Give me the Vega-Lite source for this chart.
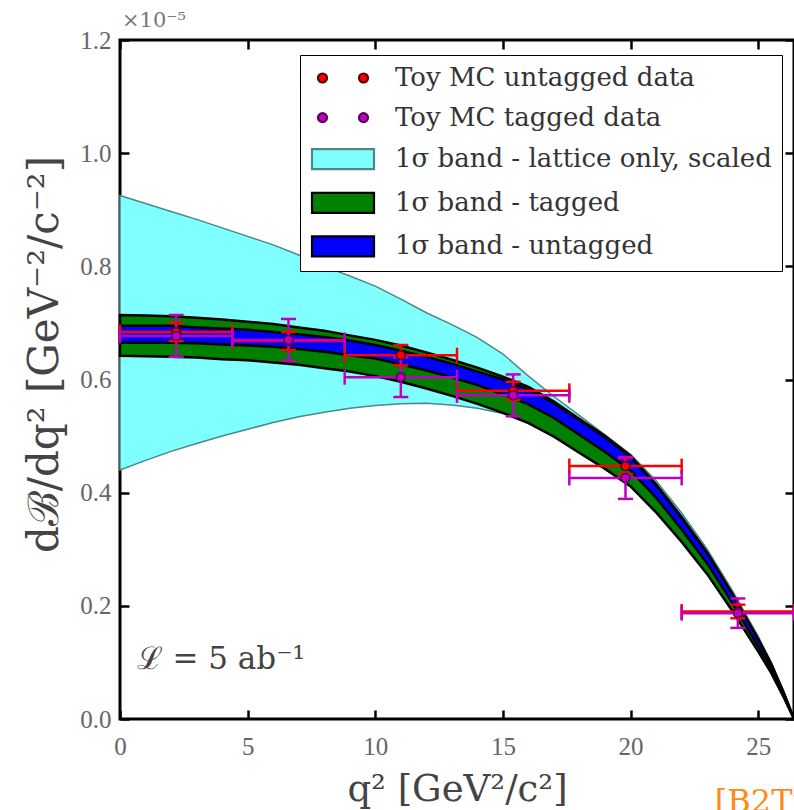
{
  "$schema": "https://vega.github.io/schema/vega-lite/v6.json",
  "width": 674,
  "height": 679,
  "autosize": {"type": "none"},
  "padding": {"left": 120, "top": 40, "right": 0, "bottom": 91},
  "background": "white",
  "config": {
    "view": {"stroke": "black", "strokeWidth": 3},
    "axis": {"grid": false}
  },
  "datasets": {
    "bands": [
      {"q2": 0, "c_lo": 0.440, "c_hi": 0.925, "g_lo": 0.642, "g_hi": 0.714, "b_lo": 0.665, "b_hi": 0.695},
      {"q2": 1, "c_lo": 0.457, "c_hi": 0.911, "g_lo": 0.641, "g_hi": 0.713, "b_lo": 0.665, "b_hi": 0.695},
      {"q2": 2, "c_lo": 0.473, "c_hi": 0.897, "g_lo": 0.640, "g_hi": 0.712, "b_lo": 0.665, "b_hi": 0.695},
      {"q2": 3, "c_lo": 0.487, "c_hi": 0.883, "g_lo": 0.639, "g_hi": 0.709, "b_lo": 0.664, "b_hi": 0.692},
      {"q2": 4, "c_lo": 0.500, "c_hi": 0.868, "g_lo": 0.636, "g_hi": 0.706, "b_lo": 0.662, "b_hi": 0.690},
      {"q2": 5, "c_lo": 0.512, "c_hi": 0.853, "g_lo": 0.634, "g_hi": 0.702, "b_lo": 0.660, "b_hi": 0.688},
      {"q2": 6, "c_lo": 0.524, "c_hi": 0.838, "g_lo": 0.630, "g_hi": 0.698, "b_lo": 0.658, "b_hi": 0.684},
      {"q2": 7, "c_lo": 0.534, "c_hi": 0.820, "g_lo": 0.626, "g_hi": 0.692, "b_lo": 0.654, "b_hi": 0.680},
      {"q2": 8, "c_lo": 0.542, "c_hi": 0.800, "g_lo": 0.620, "g_hi": 0.686, "b_lo": 0.649, "b_hi": 0.675},
      {"q2": 9, "c_lo": 0.549, "c_hi": 0.783, "g_lo": 0.614, "g_hi": 0.678, "b_lo": 0.643, "b_hi": 0.669},
      {"q2": 10, "c_lo": 0.554, "c_hi": 0.765, "g_lo": 0.606, "g_hi": 0.670, "b_lo": 0.637, "b_hi": 0.661},
      {"q2": 11, "c_lo": 0.557, "c_hi": 0.742, "g_lo": 0.596, "g_hi": 0.660, "b_lo": 0.627, "b_hi": 0.651},
      {"q2": 12, "c_lo": 0.558, "c_hi": 0.718, "g_lo": 0.584, "g_hi": 0.648, "b_lo": 0.616, "b_hi": 0.640},
      {"q2": 13, "c_lo": 0.555, "c_hi": 0.697, "g_lo": 0.571, "g_hi": 0.635, "b_lo": 0.604, "b_hi": 0.628},
      {"q2": 14, "c_lo": 0.549, "c_hi": 0.674, "g_lo": 0.557, "g_hi": 0.621, "b_lo": 0.590, "b_hi": 0.614},
      {"q2": 15, "c_lo": 0.540, "c_hi": 0.645, "g_lo": 0.541, "g_hi": 0.605, "b_lo": 0.574, "b_hi": 0.600},
      {"q2": 16, "c_lo": 0.528, "c_hi": 0.606, "g_lo": 0.523, "g_hi": 0.587, "b_lo": 0.556, "b_hi": 0.582},
      {"q2": 17, "c_lo": 0.508, "c_hi": 0.570, "g_lo": 0.499, "g_hi": 0.561, "b_lo": 0.532, "b_hi": 0.558},
      {"q2": 18, "c_lo": 0.480, "c_hi": 0.536, "g_lo": 0.470, "g_hi": 0.530, "b_lo": 0.502, "b_hi": 0.528},
      {"q2": 19, "c_lo": 0.450, "c_hi": 0.502, "g_lo": 0.442, "g_hi": 0.500, "b_lo": 0.472, "b_hi": 0.498},
      {"q2": 20, "c_lo": 0.418, "c_hi": 0.468, "g_lo": 0.411, "g_hi": 0.465, "b_lo": 0.439, "b_hi": 0.463},
      {"q2": 21, "c_lo": 0.372, "c_hi": 0.421, "g_lo": 0.365, "g_hi": 0.415, "b_lo": 0.391, "b_hi": 0.413},
      {"q2": 22, "c_lo": 0.320, "c_hi": 0.364, "g_lo": 0.313, "g_hi": 0.357, "b_lo": 0.335, "b_hi": 0.355},
      {"q2": 23, "c_lo": 0.262, "c_hi": 0.300, "g_lo": 0.256, "g_hi": 0.294, "b_lo": 0.275, "b_hi": 0.293},
      {"q2": 24, "c_lo": 0.195, "c_hi": 0.226, "g_lo": 0.190, "g_hi": 0.220, "b_lo": 0.204, "b_hi": 0.220},
      {"q2": 25, "c_lo": 0.124, "c_hi": 0.146, "g_lo": 0.119, "g_hi": 0.141, "b_lo": 0.128, "b_hi": 0.140},
      {"q2": 25.5, "c_lo": 0.085, "c_hi": 0.101, "g_lo": 0.082, "g_hi": 0.098, "b_lo": 0.089, "b_hi": 0.097},
      {"q2": 26, "c_lo": 0.040, "c_hi": 0.049, "g_lo": 0.038, "g_hi": 0.046, "b_lo": 0.041, "b_hi": 0.046},
      {"q2": 26.4, "c_lo": 0, "c_hi": 0, "g_lo": 0, "g_hi": 0, "b_lo": 0, "b_hi": 0}
    ],
    "points": [
      {"series": "Toy MC untagged data", "q2": 2.2, "q2_lo": 0, "q2_hi": 4.4, "y": 0.684, "y_lo": 0.668, "y_hi": 0.700},
      {"series": "Toy MC untagged data", "q2": 6.6, "q2_lo": 4.4, "q2_hi": 8.8, "y": 0.668, "y_lo": 0.652, "y_hi": 0.684},
      {"series": "Toy MC untagged data", "q2": 11.0, "q2_lo": 8.8, "q2_hi": 13.2, "y": 0.643, "y_lo": 0.625, "y_hi": 0.661},
      {"series": "Toy MC untagged data", "q2": 15.4, "q2_lo": 13.2, "q2_hi": 17.6, "y": 0.580, "y_lo": 0.564, "y_hi": 0.596},
      {"series": "Toy MC untagged data", "q2": 19.8, "q2_lo": 17.6, "q2_hi": 22.0, "y": 0.447, "y_lo": 0.433, "y_hi": 0.461},
      {"series": "Toy MC untagged data", "q2": 24.2, "q2_lo": 22.0, "q2_hi": 26.4, "y": 0.190, "y_lo": 0.178, "y_hi": 0.202},
      {"series": "Toy MC tagged data", "q2": 2.2, "q2_lo": 0, "q2_hi": 4.4, "y": 0.677, "y_lo": 0.640, "y_hi": 0.714},
      {"series": "Toy MC tagged data", "q2": 6.6, "q2_lo": 4.4, "q2_hi": 8.8, "y": 0.670, "y_lo": 0.633, "y_hi": 0.707},
      {"series": "Toy MC tagged data", "q2": 11.0, "q2_lo": 8.8, "q2_hi": 13.2, "y": 0.604, "y_lo": 0.569, "y_hi": 0.639},
      {"series": "Toy MC tagged data", "q2": 15.4, "q2_lo": 13.2, "q2_hi": 17.6, "y": 0.572, "y_lo": 0.535, "y_hi": 0.609},
      {"series": "Toy MC tagged data", "q2": 19.8, "q2_lo": 17.6, "q2_hi": 22.0, "y": 0.426, "y_lo": 0.389, "y_hi": 0.463},
      {"series": "Toy MC tagged data", "q2": 24.2, "q2_lo": 22.0, "q2_hi": 26.4, "y": 0.187, "y_lo": 0.161, "y_hi": 0.213}
    ],
    "legend_entries": [
      {"series": "Toy MC untagged data"},
      {"series": "Toy MC tagged data"},
      {"series": "1σ band - lattice only, scaled"},
      {"series": "1σ band - tagged"},
      {"series": "1σ band - untagged"}
    ]
  },
  "layer": [
    {
      "layer": [
        {
          "data": {"name": "bands"},
          "mark": {"type": "area", "stroke": "#4d8787", "strokeWidth": 1.5, "opacity": 1},
          "encoding": {
            "x": {
              "field": "q2", "type": "quantitative",
              "scale": {"domain": [0, 26.4], "nice": false, "zero": false},
              "axis": {
                "orient": "bottom", "values": [0, 5, 10, 15, 20, 25], "format": "d",
                "domain": false, "tickSize": -9, "tickWidth": 2.5, "tickColor": "black",
                "labelFont": "Liberation Serif", "labelFontSize": 25, "labelColor": "#666",
                "labelPadding": 24, "labelFlush": false, "labelBaseline": "top",
                "title": "q² [GeV²/c²]", "titleFont": "DejaVu Serif", "titleFontSize": 37,
                "titleFontWeight": "normal", "titleColor": "#444", "titleY": 81, "titleBaseline": "alphabetic"
              }
            },
            "y": {
              "field": "c_lo", "type": "quantitative",
              "scale": {"domain": [0, 1.2], "nice": false},
              "axis": {
                "orient": "left", "values": [0, 0.2, 0.4, 0.6, 0.8, 1.0, 1.2], "format": ".1f",
                "domain": false, "tickSize": -9, "tickWidth": 2.5, "tickColor": "black",
                "labelFont": "Liberation Serif", "labelFontSize": 25, "labelColor": "#666",
                "labelPadding": 18, "labelFlush": false,
                "title": "dℬ/dq² [GeV⁻²/c⁻²]", "titleFont": "DejaVu Serif", "titleFontSize": 42,
                "titleFontWeight": "normal", "titleColor": "#444", "titleX": -63, "titleY": 314,
                "titleAlign": "center", "titleBaseline": "alphabetic", "titleAngle": 270
              }
            },
            "y2": {"field": "c_hi"},
            "fill": {
              "datum": "1σ band - lattice only, scaled", "type": "nominal",
              "scale": {
                "domain": ["Toy MC untagged data", "Toy MC tagged data", "1σ band - lattice only, scaled", "1σ band - tagged", "1σ band - untagged"],
                "range": ["#ff0000", "#bf00bf", "#80ffff", "#008000", "#0000ff"]
              }
            }
          }
        },
        {
          "data": {"name": "bands"},
          "mark": {"type": "area", "stroke": "black", "strokeWidth": 2.5, "opacity": 1},
          "encoding": {
            "x": {"field": "q2", "type": "quantitative"},
            "y": {"field": "g_lo", "type": "quantitative"},
            "y2": {"field": "g_hi"},
            "fill": {"datum": "1σ band - tagged", "type": "nominal"}
          }
        },
        {
          "data": {"name": "bands"},
          "mark": {"type": "area", "stroke": "black", "strokeWidth": 2.5, "opacity": 1},
          "encoding": {
            "x": {"field": "q2", "type": "quantitative"},
            "y": {"field": "b_lo", "type": "quantitative"},
            "y2": {"field": "b_hi"},
            "fill": {"datum": "1σ band - untagged", "type": "nominal"}
          }
        },
        {
          "data": {"name": "points"},
          "mark": {"type": "rule", "strokeWidth": 2.5},
          "encoding": {
            "x": {"field": "q2_lo", "type": "quantitative"},
            "x2": {"field": "q2_hi"},
            "y": {"field": "y", "type": "quantitative"},
            "color": {"field": "series", "type": "nominal", "legend": null,
              "scale": {"domain": ["Toy MC untagged data", "Toy MC tagged data"], "range": ["#ff0000", "#bf00bf"]}}
          }
        },
        {
          "data": {"name": "points"},
          "mark": {"type": "rule", "strokeWidth": 2.5},
          "encoding": {
            "x": {"field": "q2", "type": "quantitative"},
            "y": {"field": "y_lo", "type": "quantitative"},
            "y2": {"field": "y_hi"},
            "color": {"field": "series", "type": "nominal", "legend": null}
          }
        },
        {
          "data": {"name": "points"},
          "mark": {"type": "tick", "orient": "horizontal", "size": 15, "thickness": 2.5, "opacity": 1},
          "encoding": {
            "x": {"field": "q2", "type": "quantitative"},
            "y": {"field": "y_lo", "type": "quantitative"},
            "color": {"field": "series", "type": "nominal", "legend": null}
          }
        },
        {
          "data": {"name": "points"},
          "mark": {"type": "tick", "orient": "horizontal", "size": 15, "thickness": 2.5, "opacity": 1},
          "encoding": {
            "x": {"field": "q2", "type": "quantitative"},
            "y": {"field": "y_hi", "type": "quantitative"},
            "color": {"field": "series", "type": "nominal", "legend": null}
          }
        },
        {
          "data": {"name": "points"},
          "mark": {"type": "tick", "orient": "vertical", "size": 15, "thickness": 2.5, "opacity": 1},
          "encoding": {
            "x": {"field": "q2_lo", "type": "quantitative"},
            "y": {"field": "y", "type": "quantitative"},
            "color": {"field": "series", "type": "nominal", "legend": null}
          }
        },
        {
          "data": {"name": "points"},
          "mark": {"type": "tick", "orient": "vertical", "size": 15, "thickness": 2.5, "opacity": 1},
          "encoding": {
            "x": {"field": "q2_hi", "type": "quantitative"},
            "y": {"field": "y", "type": "quantitative"},
            "color": {"field": "series", "type": "nominal", "legend": null}
          }
        },
        {
          "data": {"name": "points"},
          "mark": {"type": "point", "shape": "circle", "filled": true, "size": 75, "strokeWidth": 1.5, "opacity": 1},
          "encoding": {
            "x": {"field": "q2", "type": "quantitative"},
            "y": {"field": "y", "type": "quantitative"},
            "stroke": {"field": "series", "type": "nominal",
              "scale": {
                "domain": ["Toy MC untagged data", "Toy MC tagged data", "1σ band - lattice only, scaled", "1σ band - tagged", "1σ band - untagged"],
                "range": ["#5a0000", "#5a005a", "#4d8787", "black", "black"]
              }},
            "fill": {"field": "series", "type": "nominal"}
          }
        },
        {
          "data": {"name": "legend_entries"},
          "mark": {"type": "point", "filled": true, "opacity": 0, "size": 400, "strokeWidth": 2.2},
          "encoding": {
            "fill": {
              "field": "series", "type": "nominal",
              "legend": {
                "title": null, "orient": "none", "legendX": 180, "legendY": 15, "padding": 10,
                "strokeColor": "black", "fillColor": "white", "symbolOpacity": 1,
                "labelFont": "DejaVu Serif", "labelFontSize": 26, "labelColor": "#333", "labelLimit": 700,
                "symbolSize": 400, "symbolStrokeWidth": 2.2, "rowPadding": 13.6, "labelOffset": 59,
                "encode": {"legend": {"strokeWidth": {"value": 3}}}
              }
            },
            "stroke": {"field": "series", "type": "nominal"},
            "shape": {
              "field": "series", "type": "nominal", "legend": {"title": null},
              "scale": {
                "domain": ["Toy MC untagged data", "Toy MC tagged data", "1σ band - lattice only, scaled", "1σ band - tagged", "1σ band - untagged"],
                "range": [
                  "M-0.5,0a0.45,0.45 0 1,0 0.9,0a0.45,0.45 0 1,0 -0.9,0M3.6,0a0.45,0.45 0 1,0 0.9,0a0.45,0.45 0 1,0 -0.9,0",
                  "M-0.5,0a0.45,0.45 0 1,0 0.9,0a0.45,0.45 0 1,0 -0.9,0M3.6,0a0.45,0.45 0 1,0 0.9,0a0.45,0.45 0 1,0 -0.9,0",
                  "M-1.1,-1H5.1V1H-1.1Z",
                  "M-1.1,-1H5.1V1H-1.1Z",
                  "M-1.1,-1H5.1V1H-1.1Z"
                ]
              }
            }
          }
        },
        {
          "data": {"values": [{}]},
          "mark": {"type": "text", "text": "ℒ = 5 ab⁻¹", "align": "left", "baseline": "middle", "font": "DejaVu Serif", "fontSize": 31, "color": "#444"},
          "encoding": {
            "x": {"datum": 0.65, "type": "quantitative"},
            "y": {"datum": 0.105, "type": "quantitative"}
          }
        },
        {
          "data": {"values": [{}]},
          "mark": {"type": "text", "text": "[B2TiP]", "align": "left", "baseline": "top", "font": "DejaVu Serif", "fontSize": 32, "color": "#ff8c1a"},
          "encoding": {
            "x": {"datum": 23.3, "type": "quantitative"},
            "y": {"datum": -0.12, "type": "quantitative"}
          }
        }
      ]
    },
    {
      "data": {"values": [{}]},
      "mark": {"type": "text", "text": "×10⁻⁵", "align": "left", "baseline": "bottom", "dx": 2, "dy": -9, "font": "DejaVu Serif", "fontSize": 21, "color": "#777"},
      "encoding": {
        "x": {
          "datum": 0, "type": "quantitative",
          "axis": {"orient": "top", "values": [0, 5, 10, 15, 20, 25], "labels": false, "domain": false, "tickSize": -9, "tickWidth": 2.5, "tickColor": "black", "title": null}
        },
        "y": {
          "datum": 1.2, "type": "quantitative",
          "axis": {"orient": "right", "values": [0, 0.2, 0.4, 0.6, 0.8, 1.0, 1.2], "labels": false, "domain": false, "tickSize": -9, "tickWidth": 2.5, "tickColor": "black", "title": null}
        }
      }
    }
  ],
  "resolve": {"axis": {"x": "independent", "y": "independent"}}
}
